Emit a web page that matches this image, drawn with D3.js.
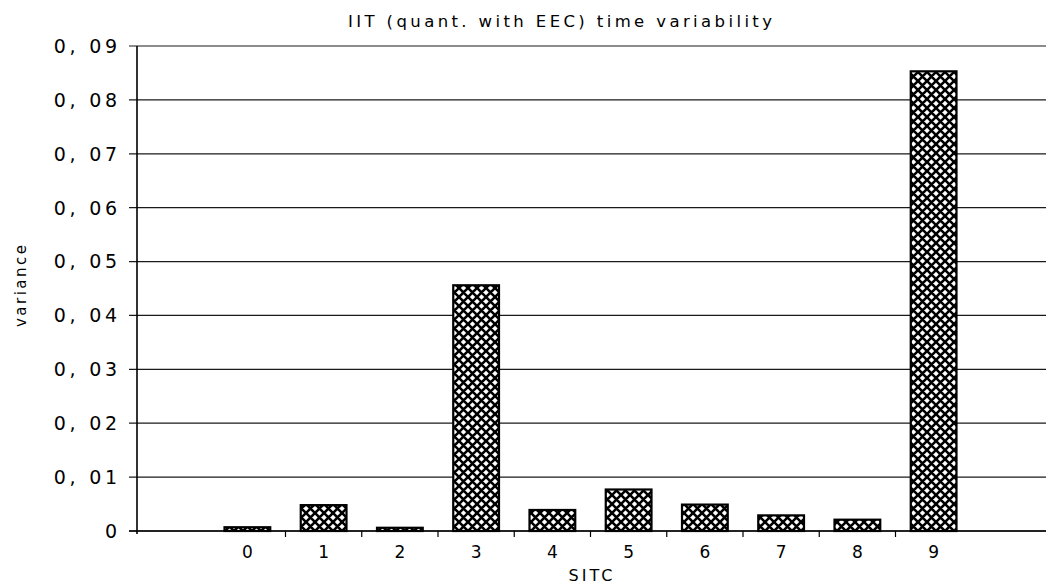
<!DOCTYPE html>
<html>
<head>
<meta charset="utf-8">
<script src="https://cdn.jsdelivr.net/npm/d3@7"></script>
<style>
  body { margin: 0; background: #fff; }
  svg { display: block; font-family: "DejaVu Sans", sans-serif; }
  .grid line { stroke: #1a1a1a; stroke-width: 1.2; }
</style>
</head>
<body>
<svg id="chart" width="1046" height="587"></svg>
<script>
// --- data ---
const categories = ["0", "1", "2", "3", "4", "5", "6", "7", "8", "9"];
const variances = [0.0007, 0.0048, 0.0006, 0.0456, 0.0039, 0.0077, 0.0049, 0.0029, 0.0021, 0.0853];
const yTicks = [0, 0.01, 0.02, 0.03, 0.04, 0.05, 0.06, 0.07, 0.08, 0.09];
const yTickLabels = ["0", "0, 01", "0, 02", "0, 03", "0, 04", "0, 05", "0, 06", "0, 07", "0, 08", "0, 09"];
const title = "IIT (quant. with EEC) time variability";
const xTitle = "SITC";
const yTitle = "variance";

const svg = d3.select("#chart");
const plotLeft = 137, plotRight = 1046;

const x = d3.scaleBand()
    .domain(categories)
    .range([133, 1048])
    .paddingInner(0.4)
    .paddingOuter(1.2);

const y = d3.scaleLinear()
    .domain([0, 0.09])
    .range([531, 46]);

// crosshatch fill
const pat = svg.append("defs").append("pattern")
    .attr("id", "hatch")
    .attr("patternUnits", "userSpaceOnUse")
    .attr("width", 9)
    .attr("height", 9);
pat.append("rect").attr("width", 9).attr("height", 9).attr("fill", "#fff");
pat.append("path")
    .attr("d", "M-1,-1L10,10M-1,10L10,-1M3.5,-5.5L14.5,5.5M-5.5,3.5L5.5,14.5M3.5,14.5L14.5,3.5M-5.5,5.5L5.5,-5.5")
    .attr("stroke", "#000")
    .attr("stroke-width", 2.6);

// gridlines
svg.append("g").attr("class", "grid")
    .selectAll("line")
    .data(yTicks)
    .join("line")
    .attr("x1", plotLeft - 8)
    .attr("x2", plotRight)
    .attr("y1", d => y(d))
    .attr("y2", d => y(d));

// y axis line
svg.append("line")
    .attr("x1", plotLeft).attr("x2", plotLeft)
    .attr("y1", y(0.09)).attr("y2", y(0) + 3)
    .attr("stroke", "#000").attr("stroke-width", 1.6);

// y tick labels
svg.append("g")
    .selectAll("text")
    .data(yTicks)
    .join("text")
    .attr("x", plotLeft - 16)
    .attr("y", d => y(d))
    .attr("dy", "0.36em")
    .attr("text-anchor", "end")
    .attr("font-size", 19)
    .attr("letter-spacing", 3.8)
    .text((d, i) => yTickLabels[i]);

// x ticks between categories
const step = x.step();
svg.append("g")
    .selectAll("line")
    .data(categories.slice(0, -1))
    .join("line")
    .attr("x1", d => x(d) + x.bandwidth() + (step - x.bandwidth()) / 2)
    .attr("x2", d => x(d) + x.bandwidth() + (step - x.bandwidth()) / 2)
    .attr("y1", y(0))
    .attr("y2", y(0) + 6)
    .attr("stroke", "#000").attr("stroke-width", 1.2);

// bars
svg.append("g")
    .selectAll("rect")
    .data(variances)
    .join("rect")
    .attr("x", (d, i) => x(categories[i]))
    .attr("width", x.bandwidth())
    .attr("y", d => y(d))
    .attr("height", d => y(0) - y(d))
    .attr("fill", "url(#hatch)")
    .attr("stroke", "#000")
    .attr("stroke-width", 2.2);

// x baseline
svg.append("line")
    .attr("x1", plotLeft - 8).attr("x2", plotRight)
    .attr("y1", y(0)).attr("y2", y(0))
    .attr("stroke", "#000").attr("stroke-width", 1.4);

// x labels
svg.append("g")
    .selectAll("text")
    .data(categories)
    .join("text")
    .attr("x", d => x(d) + x.bandwidth() / 2)
    .attr("y", 558)
    .attr("text-anchor", "middle")
    .attr("font-size", 17)
    .text(d => d);

svg.append("text")
    .attr("x", (133 + 1048) / 2 + 1.5)
    .attr("y", 581)
    .attr("text-anchor", "middle")
    .attr("font-size", 16)
    .attr("letter-spacing", 3)
    .text(xTitle);

svg.append("text")
    .attr("transform", "translate(26,286) rotate(-90)")
    .attr("text-anchor", "middle")
    .attr("font-size", 15)
    .attr("textLength", 82)
    .attr("lengthAdjust", "spacing")
    .text(yTitle);

svg.append("text")
    .attr("x", 560)
    .attr("y", 27)
    .attr("text-anchor", "middle")
    .attr("font-size", 16.5)
    .attr("textLength", 424)
    .attr("lengthAdjust", "spacing")
    .text(title);
</script>
</body>
</html>
